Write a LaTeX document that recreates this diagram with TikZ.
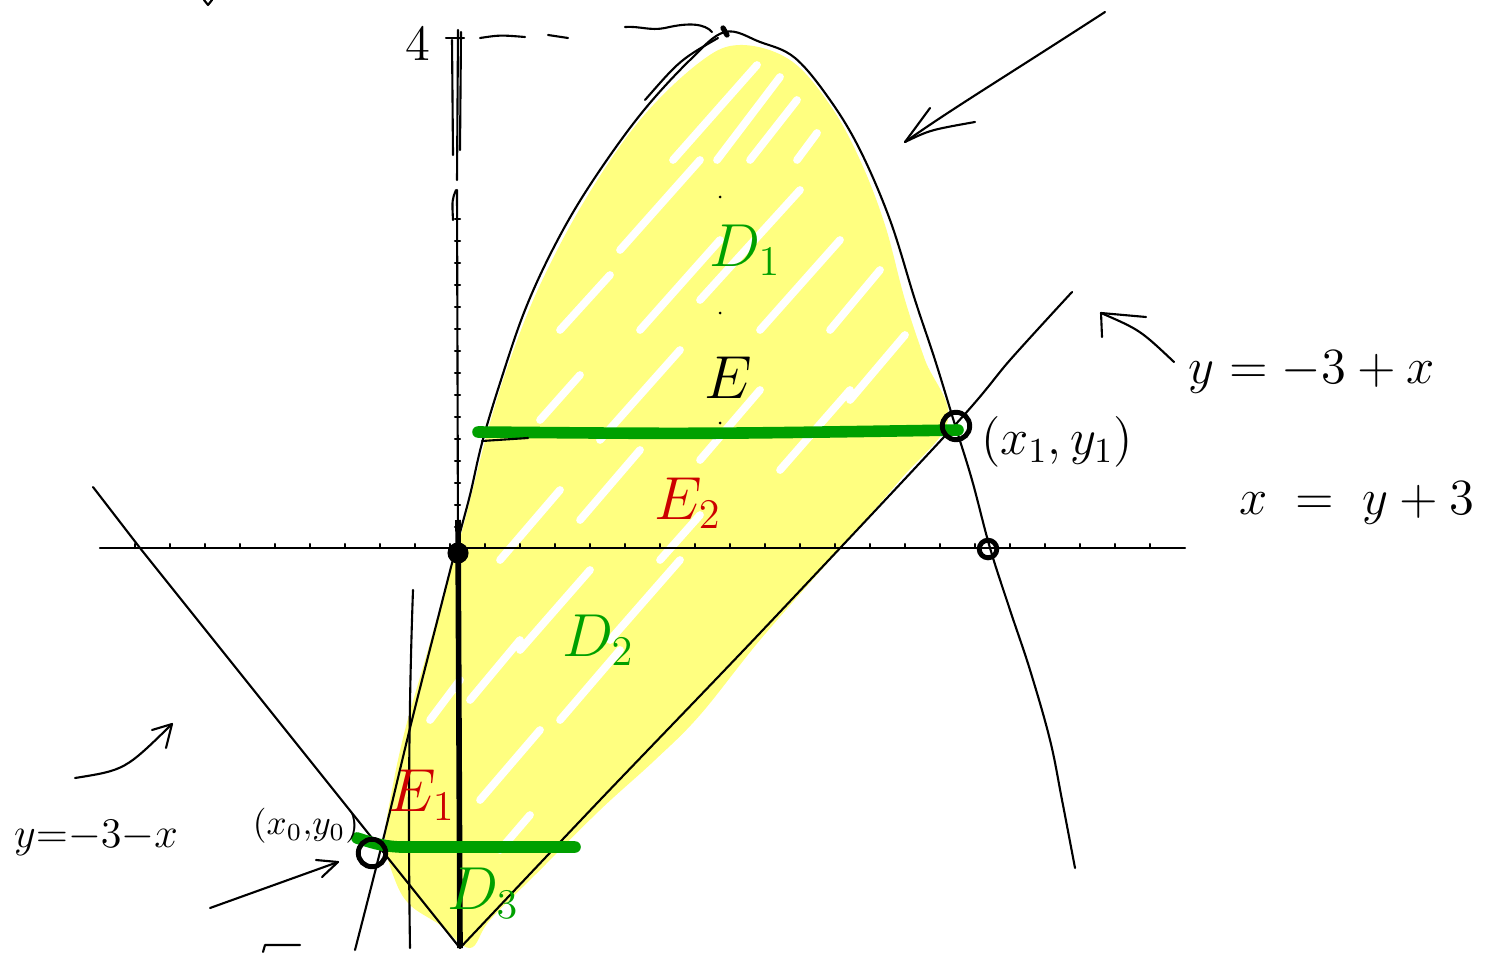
\documentclass[tikz,border=0pt]{standalone}
\usetikzlibrary{arrows.meta}
\definecolor{hl}{RGB}{255,255,128}
\definecolor{grn}{RGB}{0,160,0}
\definecolor{rd}{RGB}{204,0,0}
\begin{document}
\begin{tikzpicture}[x=0.01cm,y=-0.01cm,
  pen/.style={line width=0.6pt, line cap=round, line join=round},
  fatpen/.style={line width=1.5pt, line cap=round, line join=round},
  greenbar/.style={grn, line width=3.3pt, line cap=round},
  streak/.style={white, line width=2.2pt, line cap=round},
  lbl/.style={inner sep=0pt, font=\fontsize{14}{16}\selectfont},
  smalllbl/.style={inner sep=0pt, font=\fontsize{12}{14}\selectfont},
  tinylbl/.style={inner sep=0pt, font=\fontsize{10}{12}\selectfont},
  biglbl/.style={inner sep=0pt, font=\fontsize{18}{20}\selectfont},
  dot/.style={circle, draw, line width=1.4pt, inner sep=0pt, minimum size=7.8pt}]
\useasboundingbox (0,0) rectangle (1486,952);

% yellow highlighted region with white streaks
\begin{scope}
\clip plot[smooth cycle, tension=0.6] coordinates {(470,948) (440,925) (410,905) (395,880) (385,840) (392,790) (405,730) (425,660) (445,590) (465,520) (488,430) (510,360) (540,285) (585,200) (640,120) (700,62) (740,45) (790,60) (830,105) (860,160) (885,225) (905,300) (925,360) (948,420) (900,480) (830,560) (760,640) (700,715) (655,760) (600,810) (540,870) (490,920)};
\fill[hl] (0,0) rectangle (1486,952);
\foreach \a/\b/\c/\d in {673/160/757/65, 717/160/780/77, 750/160/797/100, 797/160/817/133,
  620/250/700/160, 560/330/610/275, 640/330/720/240, 700/300/800/190, 760/330/840/240,
  830/330/880/270, 850/400/905/335, 540/420/580/375, 600/440/680/350, 700/460/760/390,
  780/470/850/390, 500/560/560/490, 580/520/640/450, 660/560/700/515, 520/650/590/570,
  610/640/680/560, 470/700/520/640, 560/720/620/650, 480/800/540/730, 430/720/460/680,
  500/850/530/815}
  \draw[streak] (\a,\b) -- (\c,\d);
\end{scope}

% x-axis
\draw[pen] (100,548) -- (1185,548);
\foreach \t in {135,170,...,1150} \draw[pen] (\t,548) -- (\t,544);
% y-axis
\draw[pen] (458,548) -- (457,190);
\foreach \t in {527,505,...,200} \draw[pen] (455,\t) -- (460,\t);
\draw[pen] (456,190) .. controls (452,200) .. (453,220);
\draw[pen] (457,180) -- (458,30);
\draw[pen] (452,40) -- (453,155);
\draw[pen] (461,32) -- (460,150);
\draw[pen] (446,38) -- (464,38);
\node[lbl] (four) at (418,44) {$4$};
% dashed level line to the peak
\draw[pen] (480,38) .. controls (500,35) .. (525,37);
\draw[pen] (548,35) -- (568,38);
\draw[pen] (625,27) .. controls (640,26) and (650,31) .. (665,28) .. controls (690,22) and (705,24) .. (712,32);
\draw[fatpen] (723,28) -- (727,35);

% curve  x = y + 3
\draw[pen] plot[smooth, tension=0.6] coordinates {(355,950) (383,840) (412,720) (440,610) (458,540) (470,495) (482,443) (500,383) (525,310) (555,245) (590,185) (640,115) (690,60) (725,32) (760,42) (795,58) (830,100) (860,150) (890,220) (915,300) (935,360) (955,425) (972,480) (990,548) (1010,610) (1030,670) (1050,740) (1062,800) (1075,868)};
\draw[pen] (645,100) .. controls (680,60) .. (718,38);

% line y = -3 + x
\draw[pen] plot[smooth, tension=0.5] coordinates {(460,948) (600,800) (760,633) (955,425) (1010,360) (1072,292)};
% line y = -3 - x
\draw[pen] (93,487) -- (140,548) -- (460,948);
% thin near-vertical line
\draw[pen] (413,590) .. controls (409,700) and (408,820) .. (410,948);
% thick vertical line
\draw[line width=1.6pt] (458,520) -- (460,948);

% green bars
\draw[greenbar] (478,432) .. controls (700,434) .. (958,430);
\draw[pen] (482,441) -- (528,438);
\draw[greenbar] (357,838) .. controls (370,842) and (380,846) .. (400,847) -- (575,847);

% points
\node[dot] (P1) at (956,426) {};
\node[dot, minimum size=5pt] (P2) at (988,549) {};
\node[circle, fill, inner sep=0pt, minimum size=6pt] (O) at (458,553) {};
\node[dot] (P0) at (372,853) {};

% dots on the centre line
\fill (720,197) circle (1.5);
\fill (720,313) circle (1.5);
\fill (720,423) circle (1.5);

% region labels
\node[biglbl, text=grn] (D1) at (745,250) {$D_1$};
\node[biglbl] (E) at (728,378) {$E$};
\node[biglbl, text=rd] (E2) at (688,503) {$E_2$};
\node[biglbl, text=grn] (D2) at (598,640) {$D_2$};
\node[biglbl, text=rd] (E1) at (422,795) {$E_1$};
\node[biglbl, text=grn] (D3) at (483,893) {$D_3$};

% equation labels
\node[lbl] (x1y1) at (1057,442) {$(x_1,y_1)$};
\node[lbl] (eq1) at (1312,372) {$y=-3+x$};
\node[lbl] (eq2) at (1357,503) {$x \;=\; y+3$};
\node[smalllbl] (eq3) at (96,838) {$y{=}{-}3{-}x$};
\node[tinylbl] (x0y0) at (306,826) {$(x_0{,}y_0)$};

% arrows
\coordinate (a1s) at (1105,12);
\coordinate (a1e) at (905,142);
\draw[pen] (a1s) .. controls (1000,80) and (950,110) .. (a1e);
\draw[pen] (a1e) -- (930,108);
\draw[pen] (a1e) .. controls (930,130) .. (975,122);

\coordinate (a2s) at (1174,362);
\coordinate (a2e) at (1101,313);
\draw[pen] (a2s) .. controls (1140,330) .. (a2e);
\draw[pen] (a2e) -- (1146,317);
\draw[pen] (a2e) -- (1102,337);

\coordinate (a3s) at (75,778);
\coordinate (a3e) at (172,724);
\draw[pen] (a3s) .. controls (125,770) .. (a3e);
\draw[pen] (a3e) -- (152,730);
\draw[pen] (a3e) -- (166,748);

\coordinate (a4s) at (210,908);
\coordinate (a4e) at (338,862);
\draw[pen] (a4s) -- (a4e);
\draw[pen] (a4e) -- (316,860);
\draw[pen] (a4e) -- (322,877);

% stray marks
\draw[pen] (263,952) -- (265,945) -- (300,945);
\draw[pen] (204,0) -- (208,5) -- (212,0);
\end{tikzpicture}
\end{document}
